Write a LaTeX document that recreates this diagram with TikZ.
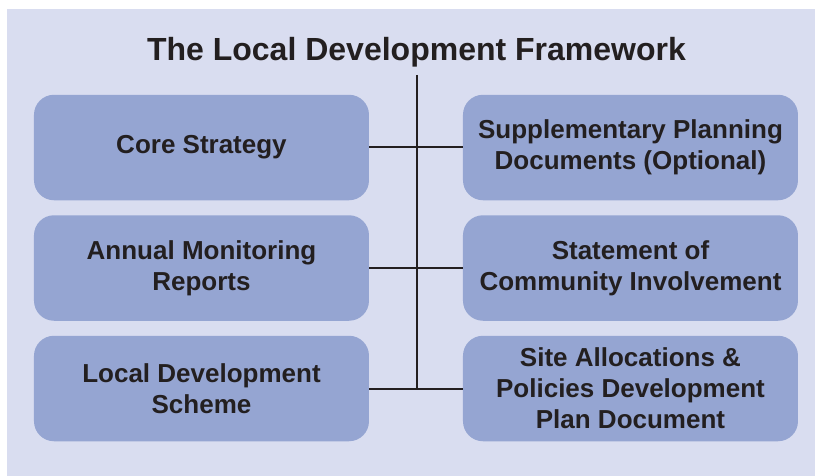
\documentclass[tikz,border=0pt]{standalone}
\usepackage{fontspec}
\setmainfont{Liberation Sans}
\usetikzlibrary{matrix}
\definecolor{framebg}{HTML}{D9DDF0}
\definecolor{boxblue}{HTML}{95A5D2}
\definecolor{inkdark}{HTML}{231F20}

\begin{document}
\begin{tikzpicture}[x=1pt,y=-1pt]
    \useasboundingbox (0,0) rectangle (815,476);
    \fill [framebg] (7,9) rectangle (815,476);
    \node (title) [anchor=base, text=inkdark, font=\fontsize{32}{38}\selectfont\bfseries] at (416.5,61) {The Local Development Framework};
    \matrix (m) [column sep=94pt, row sep=15pt,
        nodes={rectangle, rounded corners=20pt, fill=boxblue, minimum width=335pt, minimum height=105.5pt,
            align=center, text=inkdark, font=\fontsize{26}{31}\selectfont\bfseries} ] at (416,268) {
            \node (core) {Core Strategy}; & \node (spd) {Supplementary Planning\\Documents (Optional)}; \\
            \node (amr) {Annual Monitoring\\Reports}; & \node (sci) {Statement of\\Community Involvement}; \\
            \node (lds) {Local Development\\Scheme}; & \node (sapd) {Site Allocations \&\\Policies Development\\Plan Document}; \\
        };
    \coordinate (stem) at (416.5,75);
    \draw [line width=2pt, inkdark] (stem) -- (stem |- lds.east);
    \draw [line width=2pt, inkdark] (core.east) -- (spd.west);
    \draw [line width=2pt, inkdark] (amr.east) -- (sci.west);
    \draw [line width=2pt, inkdark] (lds.east) -- (sapd.west);
\end{tikzpicture}
\end{document}
